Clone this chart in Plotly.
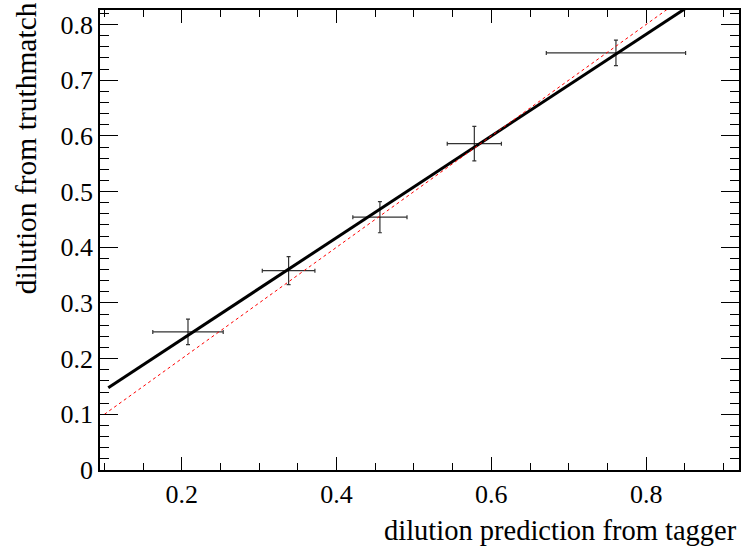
import plotly.graph_objects as go

# Tagger calibration: predicted dilution vs. dilution measured from truth matching
pred = [0.208, 0.338, 0.456, 0.578, 0.761]
pred_err = [0.0455, 0.034, 0.035, 0.035, 0.090]
truth = [0.248, 0.358, 0.454, 0.586, 0.749]
truth_err = [0.023, 0.025, 0.028, 0.031, 0.023]

# Linear fit result and the fit range
fit_offset = 0.052
fit_slope = 0.913
fit_range = [0.105, 0.92]

# Reference diagonal (perfect calibration)
diag_range = [0.1, 0.92]

x_range = [0.0943, 0.92]
y_range = [0.0, 0.826]

FONT = "Liberation Serif"
TICK_FONT = dict(family=FONT, size=26, color="black")

fig = go.Figure()

fig.add_trace(go.Scatter(
    x=pred, y=truth, mode="markers",
    marker=dict(size=1, color="black"),
    error_x=dict(type="data", array=pred_err, color="#333333", thickness=1.2, width=2),
    error_y=dict(type="data", array=truth_err, color="#333333", thickness=1.2, width=2),
    showlegend=False, hoverinfo="skip",
))

fig.add_trace(go.Scatter(
    x=fit_range, y=[fit_offset + fit_slope * v for v in fit_range],
    mode="lines", line=dict(color="black", width=3), showlegend=False,
))

# Diagonal lives on the overlay axes that carry the minor ticks
fig.add_trace(go.Scatter(
    x=diag_range, y=diag_range, xaxis="x2", yaxis="y2",
    mode="lines", line=dict(color="red", width=1, dash="3px,3px"), showlegend=False,
))

frame = dict(
    showgrid=False, zeroline=False, showline=True, linecolor="black", linewidth=1.5,
    mirror="ticks", ticks="inside", tickcolor="black", tickwidth=1,
)

fig.update_layout(
    xaxis=dict(range=x_range, tick0=0, dtick=0.2, ticklen=13, tickfont=TICK_FONT, **frame),
    yaxis=dict(range=y_range, tick0=0, dtick=0.1, ticklen=18, tickfont=TICK_FONT, **frame),
    xaxis2=dict(range=x_range, tick0=0, dtick=0.05, ticklen=7, showticklabels=False,
                overlaying="x", anchor="y2", side="bottom", **frame),
    yaxis2=dict(range=y_range, tick0=0, dtick=0.02, ticklen=9, showticklabels=False,
                overlaying="y", anchor="x2", side="left", **frame),
)

fig.add_annotation(
    text="dilution prediction from tagger", xref="paper", yref="paper",
    x=1, y=-0.0935, xanchor="right", yanchor="top", showarrow=False,
    font=dict(family=FONT, size=28.5, color="black"),
)
fig.add_annotation(
    text="dilution from truthmatch", xref="paper", yref="paper",
    x=-0.1435, y=1.022, xanchor="left", yanchor="top", textangle=-90, showarrow=False,
    font=dict(family=FONT, size=29.5, color="black"),
)

fig.update_layout(
    width=745, height=548,
    margin=dict(l=100, r=4, t=10, b=78),
    paper_bgcolor="white", plot_bgcolor="white",
    font=dict(family=FONT, size=26, color="black"),
)

fig.write_html("out.html")
